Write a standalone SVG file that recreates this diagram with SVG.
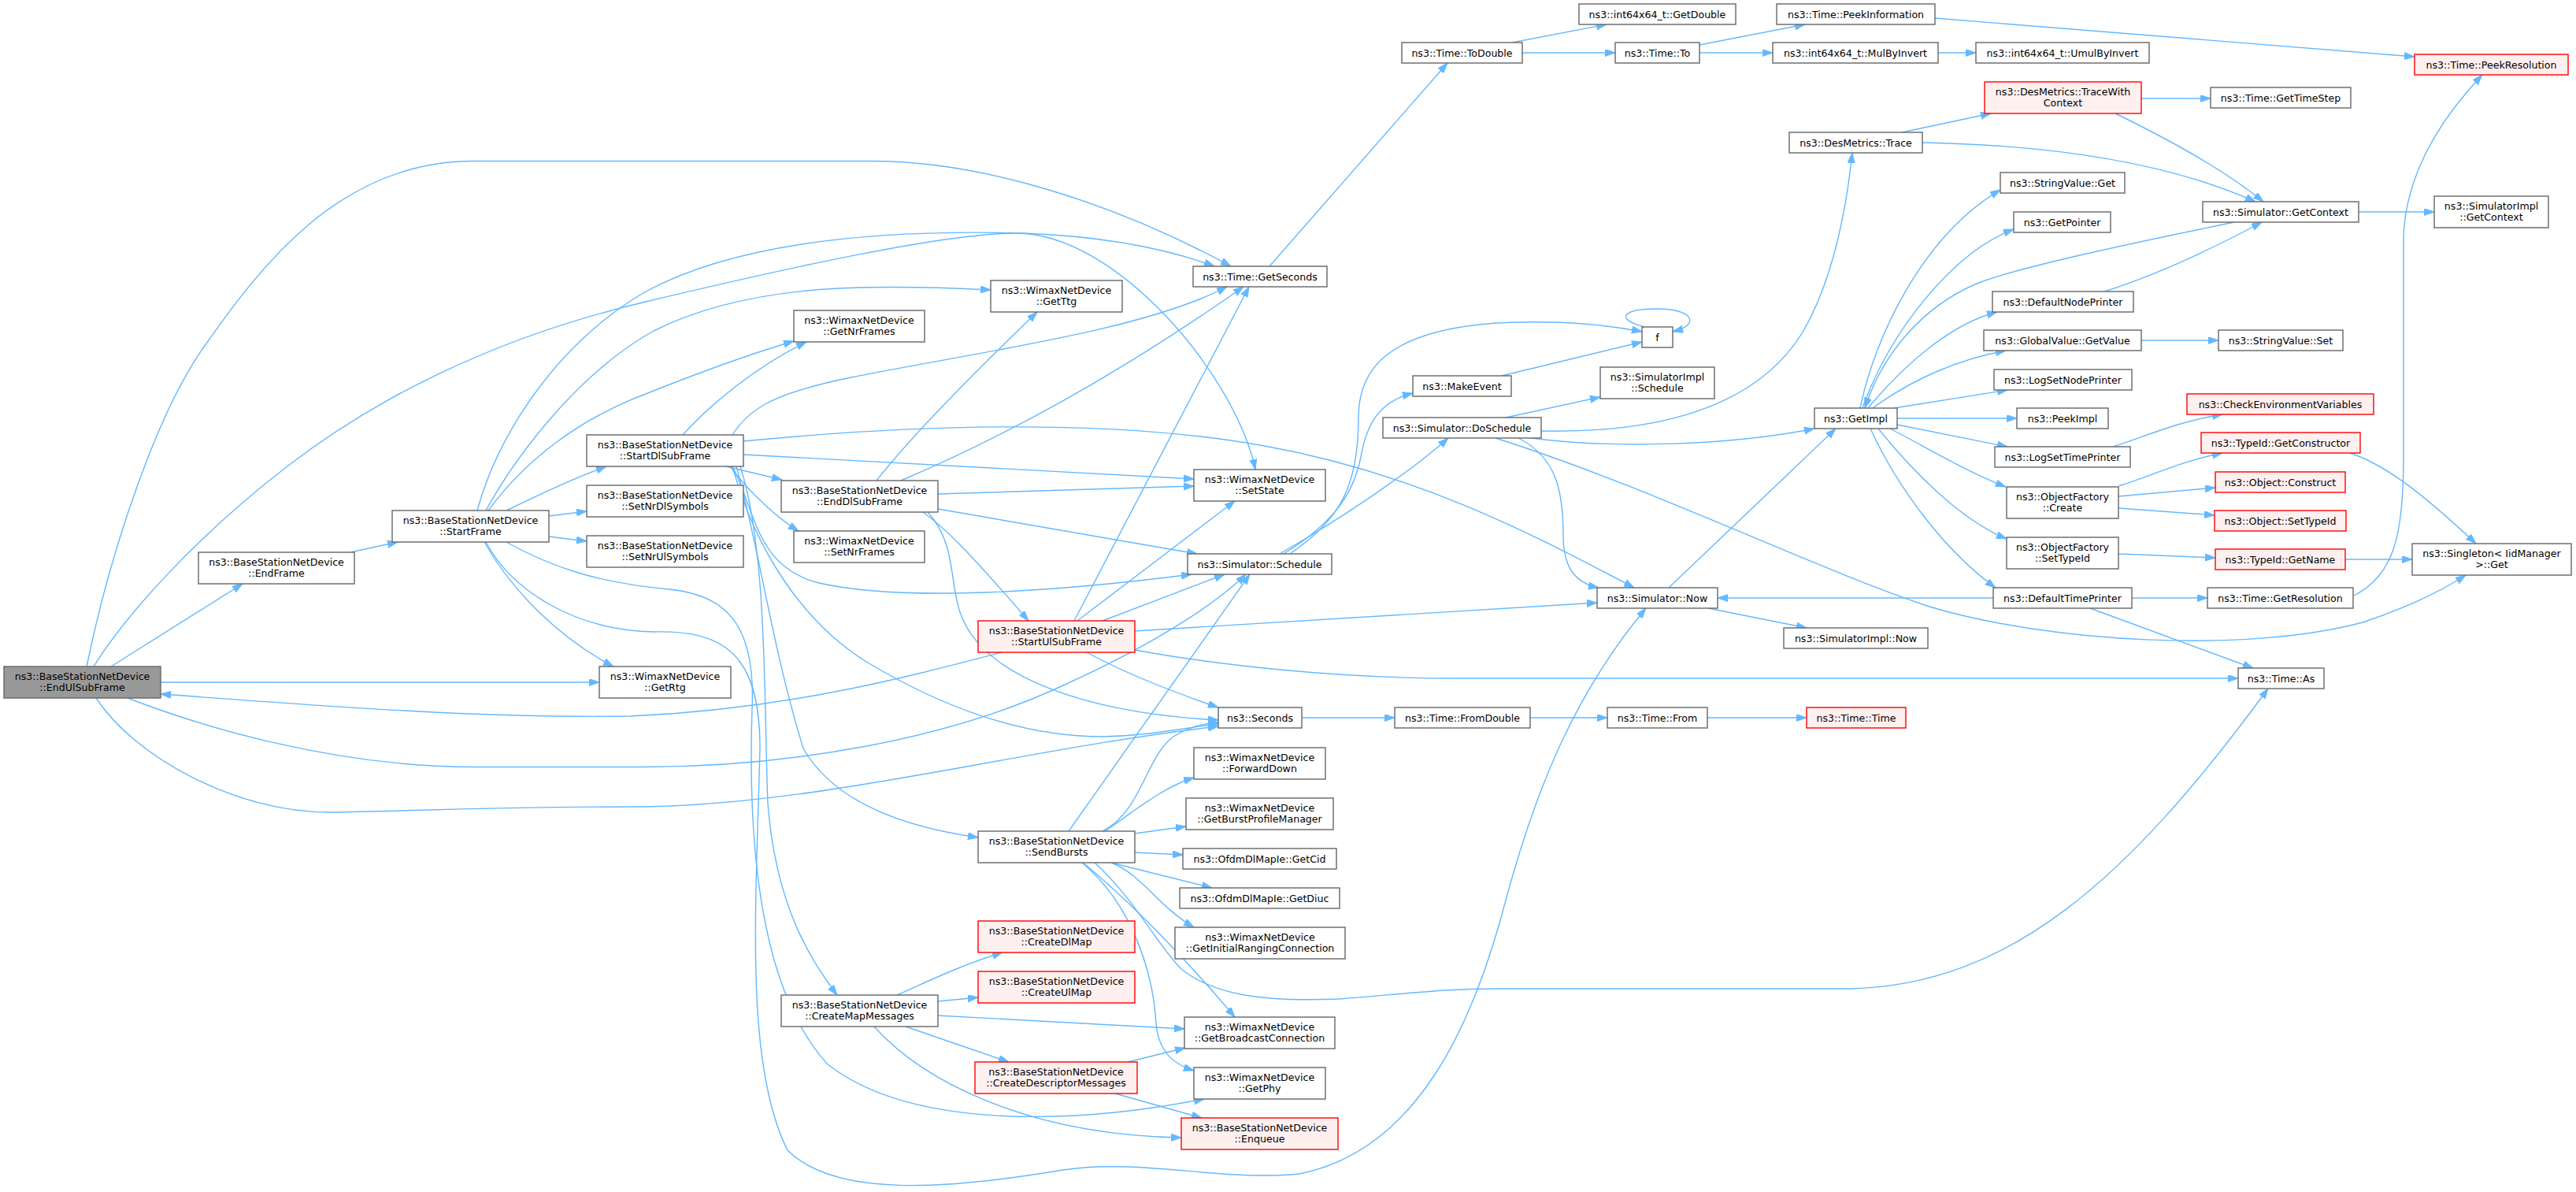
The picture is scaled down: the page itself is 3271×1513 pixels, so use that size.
<svg xmlns="http://www.w3.org/2000/svg" width="3271" height="1513" viewBox="0 0 3271 1513">
<style>
.n rect{fill:#fff;stroke:#666;stroke-width:1.4}
.r rect{fill:#fff0f0;stroke:#f00;stroke-width:1.4}
.root rect{fill:#999;stroke:#666;stroke-width:1.4}
text{font-family:"DejaVu Sans",sans-serif;font-size:12.6px;text-anchor:middle;fill:#000}
#edges path{fill:none;stroke:#63b8ff;stroke-width:1.4;marker-end:url(#a)}
</style>
<defs>
<marker id="a" markerUnits="userSpaceOnUse" markerWidth="14" markerHeight="10" refX="13" refY="4.5" orient="auto"><path d="M0,0 L13,4.5 L0,9 z" fill="#63b8ff" stroke="#63b8ff" stroke-width="1"/></marker>
</defs>
<rect width="3271" height="1513" fill="#fff"/>
<g id="edges">
<path d="M141,846 L308,741"/>
<path d="M204,866 L761,866"/>
<path d="M110,846 C140,700 200,520 262,436 C330,340 430,205 600,204.5 L1108,204.5 C1250,204.5 1420,260 1563,338"/>
<path d="M119,846 C160,780 250,680 366,591 C470,511 620,430 820,383 C1000,340 1200,296 1290,296 C1420,296 1570,480 1594,596"/>
<path d="M162,886 C250,920 420,973 600,973.5 L820,973.5 C1000,973 1200,940 1350,870 C1460,820 1540,770 1582,729"/>
<path d="M122,886 C170,960 300,1032 420,1031 C520,1030 600,1024 820,1024 C1050,1020 1300,950 1547,922"/>
<path d="M1272,828 C1150,860 1000,900 800,909 C600,912 400,895 204,881"/>
<path d="M445,701 L505,688"/>
<path d="M643,648 C690,625 730,606 770,592"/>
<path d="M697,655 L745,649"/>
<path d="M697,681 L745,687"/>
<path d="M615,688 C650,750 710,810 779,846"/>
<path d="M606,648 C630,560 700,440 820,370 C950,300 1150,292 1300,296 C1400,300 1480,315 1542,338"/>
<path d="M617,648 C660,570 740,470 830,420 C950,360 1100,360 1258,368"/>
<path d="M620,648 C670,580 740,530 820,500 C890,472 950,450 1008,433"/>
<path d="M867,552 C900,515 960,465 1024,434"/>
<path d="M930,552 C950,520 980,500 1076,480 C1250,445 1450,420 1558,364"/>
<path d="M1144,610 C1250,565 1400,490 1579,364"/>
<path d="M1364,788 L1586,364"/>
<path d="M1113,610 C1160,550 1240,470 1317,396"/>
<path d="M944,577 L1516,608"/>
<path d="M1191,627 L1516,617"/>
<path d="M1368,788 L1568,636"/>
<path d="M944,560 C1150,540 1400,530 1600,565 C1800,600 1950,680 2075,746"/>
<path d="M922,592 L993,609"/>
<path d="M927,592 C940,610 975,650 1014,674"/>
<path d="M930,592 C960,650 960,720 1040,740 C1150,765 1350,750 1513,729"/>
<path d="M930,592 C960,700 1020,790 1100,840 C1200,900 1300,935 1400,935 C1460,934 1500,924 1547,919"/>
<path d="M935,592 C965,700 980,820 1020,950 C1060,1020 1150,1050 1242,1063"/>
<path d="M940,592 C975,700 970,900 975,1020 C985,1150 1030,1220 1063,1263"/>
<path d="M643,688 C700,720 760,740 850,748 C920,755 960,790 955,900 C950,1050 960,1250 1050,1350 C1150,1430 1350,1430 1529,1395"/>
<path d="M617,688 C650,750 730,800 830,802 C920,800 965,830 965,950 C960,1150 945,1350 1000,1460 C1060,1520 1200,1510 1350,1485 C1450,1470 1550,1500 1650,1490 C1800,1460 1870,1300 1910,1150 C1950,1000 2000,880 2090,772"/>
<path d="M1357,1055 L1587,729"/>
<path d="M1400,1055 C1450,1030 1455,960 1490,935 C1510,922 1530,918 1547,917"/>
<path d="M1403,1055 C1440,1030 1475,1000 1516,987"/>
<path d="M1441,1058 L1506,1049"/>
<path d="M1441,1082 L1502,1085"/>
<path d="M1411,1095 L1539,1127"/>
<path d="M1411,1095 C1450,1110 1470,1150 1516,1177"/>
<path d="M1375,1095 C1430,1140 1500,1210 1568,1291"/>
<path d="M1374,1095 C1440,1150 1465,1240 1468,1300 C1472,1340 1495,1352 1516,1359"/>
<path d="M1390,1095 C1440,1140 1470,1200 1500,1230 C1540,1262 1600,1272 1700,1268 C1780,1262 1830,1255 1900,1255 L2350,1255 C2550,1250 2700,1120 2880,874"/>
<path d="M1139,1263 C1180,1245 1220,1225 1273,1209"/>
<path d="M1191,1271 L1242,1266"/>
<path d="M1191,1289 L1504,1306"/>
<path d="M1150,1303 L1281,1348"/>
<path d="M1110,1303 C1170,1370 1300,1440 1500,1444"/>
<path d="M1432,1348 L1505,1330"/>
<path d="M1416,1388 L1526,1419"/>
<path d="M1172,650 C1200,670 1230,700 1306,788"/>
<path d="M1178,650 C1215,690 1205,740 1220,780 C1250,860 1380,905 1547,914"/>
<path d="M1191,646 L1520,703"/>
<path d="M1400,788 L1555,729"/>
<path d="M1380,828 C1420,850 1480,875 1547,898"/>
<path d="M1441,801 L2028,765"/>
<path d="M1441,825 C1550,845 1700,861 1850,861 L2842,861"/>
<path d="M1625,703 C1700,660 1790,600 1839,556"/>
<path d="M1630,703 C1700,660 1720,620 1728,580 C1735,540 1750,510 1794,499"/>
<path d="M1638,703 C1700,660 1725,620 1725,530 C1725,470 1760,420 1900,410 C1980,406 2040,412 2085,421"/>
<path d="M1907,477 L2085,434"/>
<path d="M2088,415 C2050,405 2060,392 2104,392 C2150,392 2160,412 2124,421"/>
<path d="M1912,530 L2032,504"/>
<path d="M1957,547 C2100,550 2230,520 2290,420 C2330,350 2345,260 2352,194"/>
<path d="M1944,556 C2050,570 2200,565 2304,544"/>
<path d="M1928,556 C1975,580 1985,620 1985,680 C1985,720 2000,740 2030,746"/>
<path d="M1899,556 C2100,620 2300,720 2450,770 C2600,815 2850,830 3000,790 C3060,770 3100,750 3131,730"/>
<path d="M2119,746 L2331,544"/>
<path d="M2169,772 L2294,797"/>
<path d="M2531,759 L2181,759"/>
<path d="M2707,759 L2803,759"/>
<path d="M2654,772 L2861,848"/>
<path d="M2989,756 C3040,730 3052,680 3052,580 L3052,300 C3055,220 3100,150 3152,95"/>
<path d="M1653,911 L1771,911"/>
<path d="M1943,911 L2041,911"/>
<path d="M2168,911 L2294,911"/>
<path d="M1612,338 L1838,80"/>
<path d="M1920,54 L2040,31"/>
<path d="M1933,67 L2051,67"/>
<path d="M2158,57 L2292,31"/>
<path d="M2158,67 L2251,67"/>
<path d="M2461,67 L2509,67"/>
<path d="M2457,23 L3066,72"/>
<path d="M2415,168 L2528,144"/>
<path d="M2441,181 C2600,184 2750,205 2864,256"/>
<path d="M2719,125 L2807,125"/>
<path d="M2686,144 C2760,180 2830,220 2874,256"/>
<path d="M2995,269 L3091,269"/>
<path d="M2837,282 C2700,310 2560,340 2510,360 C2440,390 2390,450 2368,518"/>
<path d="M2672,370 C2750,345 2820,310 2872,282"/>
<path d="M2719,432 L2817,432"/>
<path d="M2683,567 C2720,556 2760,536 2822,526"/>
<path d="M2690,617 C2730,605 2770,585 2822,575"/>
<path d="M2690,630 L2813,619"/>
<path d="M2690,645 L2812,654"/>
<path d="M2690,703 L2813,708"/>
<path d="M2978,710 L3063,710"/>
<path d="M2984,575 C3030,590 3080,630 3144,690"/>
<path d="M2362,518 C2380,430 2440,300 2540,241"/>
<path d="M2365,518 C2400,420 2480,320 2557,291"/>
<path d="M2372,518 C2420,460 2480,410 2536,396"/>
<path d="M2378,518 C2430,480 2490,455 2547,445"/>
<path d="M2405,518 L2549,495"/>
<path d="M2409,531 L2561,531"/>
<path d="M2409,539 L2549,567"/>
<path d="M2400,544 C2450,570 2500,600 2547,618"/>
<path d="M2385,544 C2430,600 2490,660 2548,684"/>
<path d="M2375,544 C2410,620 2470,700 2534,746"/>
</g>
<g id="n1" class="root"><rect x="5" y="846" width="199" height="40"/><text x="104.5" y="863">ns3::BaseStationNetDevice</text><text x="104.5" y="877">::EndUlSubFrame</text></g>
<g id="n2" class="n"><rect x="252" y="701" width="198" height="40"/><text x="351" y="718">ns3::BaseStationNetDevice</text><text x="351" y="732">::EndFrame</text></g>
<g id="n3" class="n"><rect x="498" y="648" width="199" height="40"/><text x="597.5" y="665">ns3::BaseStationNetDevice</text><text x="597.5" y="679">::StartFrame</text></g>
<g id="n4" class="n"><rect x="745" y="552" width="199" height="40"/><text x="844.5" y="569">ns3::BaseStationNetDevice</text><text x="844.5" y="583">::StartDlSubFrame</text></g>
<g id="n5" class="n"><rect x="745" y="616" width="199" height="40"/><text x="844.5" y="633">ns3::BaseStationNetDevice</text><text x="844.5" y="647">::SetNrDlSymbols</text></g>
<g id="n6" class="n"><rect x="745" y="680" width="199" height="40"/><text x="844.5" y="697">ns3::BaseStationNetDevice</text><text x="844.5" y="711">::SetNrUlSymbols</text></g>
<g id="n7" class="n"><rect x="761" y="846" width="167" height="40"/><text x="844.5" y="863">ns3::WimaxNetDevice</text><text x="844.5" y="877">::GetRtg</text></g>
<g id="n8" class="n"><rect x="1008" y="394" width="166" height="40"/><text x="1091" y="411">ns3::WimaxNetDevice</text><text x="1091" y="425">::GetNrFrames</text></g>
<g id="n9" class="n"><rect x="1258" y="356" width="167" height="40"/><text x="1341.5" y="373">ns3::WimaxNetDevice</text><text x="1341.5" y="387">::GetTtg</text></g>
<g id="n10" class="n"><rect x="992" y="610" width="199" height="40"/><text x="1091.5" y="627">ns3::BaseStationNetDevice</text><text x="1091.5" y="641">::EndDlSubFrame</text></g>
<g id="n11" class="n"><rect x="1008" y="674" width="166" height="40"/><text x="1091" y="691">ns3::WimaxNetDevice</text><text x="1091" y="705">::SetNrFrames</text></g>
<g id="n12" class="r"><rect x="1242" y="788" width="199" height="40"/><text x="1341.5" y="805">ns3::BaseStationNetDevice</text><text x="1341.5" y="819">::StartUlSubFrame</text></g>
<g id="n13" class="n"><rect x="1242" y="1055" width="199" height="40"/><text x="1341.5" y="1072">ns3::BaseStationNetDevice</text><text x="1341.5" y="1086">::SendBursts</text></g>
<g id="n14" class="n"><rect x="992" y="1263" width="199" height="40"/><text x="1091.5" y="1280">ns3::BaseStationNetDevice</text><text x="1091.5" y="1294">::CreateMapMessages</text></g>
<g id="n15" class="r"><rect x="1242" y="1169" width="199" height="40"/><text x="1341.5" y="1186">ns3::BaseStationNetDevice</text><text x="1341.5" y="1200">::CreateDlMap</text></g>
<g id="n16" class="r"><rect x="1242" y="1233" width="199" height="40"/><text x="1341.5" y="1250">ns3::BaseStationNetDevice</text><text x="1341.5" y="1264">::CreateUlMap</text></g>
<g id="n17" class="r"><rect x="1238" y="1348" width="206" height="40"/><text x="1341" y="1365">ns3::BaseStationNetDevice</text><text x="1341" y="1379">::CreateDescriptorMessages</text></g>
<g id="n18" class="n"><rect x="1515" y="338" width="170" height="26"/><text x="1600" y="355.5">ns3::Time::GetSeconds</text></g>
<g id="n19" class="n"><rect x="1516" y="596" width="167" height="40"/><text x="1599.5" y="613">ns3::WimaxNetDevice</text><text x="1599.5" y="627">::SetState</text></g>
<g id="n20" class="n"><rect x="1508" y="703" width="183" height="26"/><text x="1599.5" y="720.5">ns3::Simulator::Schedule</text></g>
<g id="n21" class="n"><rect x="1547" y="898" width="106" height="26"/><text x="1600" y="915.5">ns3::Seconds</text></g>
<g id="n22" class="n"><rect x="1516" y="949" width="167" height="40"/><text x="1599.5" y="966">ns3::WimaxNetDevice</text><text x="1599.5" y="980">::ForwardDown</text></g>
<g id="n23" class="n"><rect x="1506" y="1013" width="187" height="40"/><text x="1599.5" y="1030">ns3::WimaxNetDevice</text><text x="1599.5" y="1044">::GetBurstProfileManager</text></g>
<g id="n24" class="n"><rect x="1502" y="1077" width="195" height="26"/><text x="1599.5" y="1094.5">ns3::OfdmDlMapIe::GetCid</text></g>
<g id="n25" class="n"><rect x="1498" y="1127" width="203" height="26"/><text x="1599.5" y="1144.5">ns3::OfdmDlMapIe::GetDiuc</text></g>
<g id="n26" class="n"><rect x="1492" y="1177" width="216" height="40"/><text x="1600" y="1194">ns3::WimaxNetDevice</text><text x="1600" y="1208">::GetInitialRangingConnection</text></g>
<g id="n27" class="n"><rect x="1504" y="1291" width="191" height="40"/><text x="1599.5" y="1308">ns3::WimaxNetDevice</text><text x="1599.5" y="1322">::GetBroadcastConnection</text></g>
<g id="n28" class="n"><rect x="1516" y="1355" width="167" height="40"/><text x="1599.5" y="1372">ns3::WimaxNetDevice</text><text x="1599.5" y="1386">::GetPhy</text></g>
<g id="n29" class="r"><rect x="1500" y="1419" width="199" height="40"/><text x="1599.5" y="1436">ns3::BaseStationNetDevice</text><text x="1599.5" y="1450">::Enqueue</text></g>
<g id="n30" class="n"><rect x="1780" y="54" width="153" height="26"/><text x="1856.5" y="71.5">ns3::Time::ToDouble</text></g>
<g id="n31" class="n"><rect x="2005" y="5" width="199" height="26"/><text x="2104.5" y="22.5">ns3::int64x64_t::GetDouble</text></g>
<g id="n32" class="n"><rect x="2051" y="54" width="107" height="26"/><text x="2104.5" y="71.5">ns3::Time::To</text></g>
<g id="n33" class="n"><rect x="2256" y="5" width="201" height="26"/><text x="2356.5" y="22.5">ns3::Time::PeekInformation</text></g>
<g id="n34" class="n"><rect x="2251" y="54" width="210" height="26"/><text x="2356" y="71.5">ns3::int64x64_t::MulByInvert</text></g>
<g id="n35" class="n"><rect x="2509" y="54" width="220" height="26"/><text x="2619" y="71.5">ns3::int64x64_t::UmulByInvert</text></g>
<g id="n36" class="r"><rect x="3066" y="69" width="195" height="26"/><text x="3163.5" y="86.5">ns3::Time::PeekResolution</text></g>
<g id="n37" class="n"><rect x="2272" y="168" width="169" height="26"/><text x="2356.5" y="185.5">ns3::DesMetrics::Trace</text></g>
<g id="n38" class="r"><rect x="2520" y="104" width="199" height="40"/><text x="2619.5" y="121">ns3::DesMetrics::TraceWith</text><text x="2619.5" y="135">Context</text></g>
<g id="n39" class="n"><rect x="2807" y="111" width="178" height="26"/><text x="2896" y="128.5">ns3::Time::GetTimeStep</text></g>
<g id="n40" class="n"><rect x="2540" y="219" width="158" height="26"/><text x="2619" y="236.5">ns3::StringValue::Get</text></g>
<g id="n41" class="n"><rect x="2557" y="269" width="123" height="26"/><text x="2618.5" y="286.5">ns3::GetPointer</text></g>
<g id="n42" class="n"><rect x="2797" y="256" width="198" height="26"/><text x="2896" y="273.5">ns3::Simulator::GetContext</text></g>
<g id="n43" class="n"><rect x="3091" y="249" width="145" height="40"/><text x="3163.5" y="266">ns3::SimulatorImpl</text><text x="3163.5" y="280">::GetContext</text></g>
<g id="n44" class="n"><rect x="2530" y="370" width="179" height="26"/><text x="2619.5" y="387.5">ns3::DefaultNodePrinter</text></g>
<g id="n45" class="n"><rect x="2519" y="419" width="200" height="26"/><text x="2619" y="436.5">ns3::GlobalValue::GetValue</text></g>
<g id="n46" class="n"><rect x="2817" y="419" width="158" height="26"/><text x="2896" y="436.5">ns3::StringValue::Set</text></g>
<g id="n47" class="n"><rect x="2532" y="469" width="175" height="26"/><text x="2619.5" y="486.5">ns3::LogSetNodePrinter</text></g>
<g id="n48" class="r"><rect x="2777" y="500" width="237" height="26"/><text x="2895.5" y="517.5">ns3::CheckEnvironmentVariables</text></g>
<g id="n49" class="n"><rect x="2561" y="518" width="116" height="26"/><text x="2619" y="535.5">ns3::PeekImpl</text></g>
<g id="n50" class="r"><rect x="2795" y="549" width="202" height="26"/><text x="2896" y="566.5">ns3::TypeId::GetConstructor</text></g>
<g id="n51" class="n"><rect x="2533" y="567" width="172" height="26"/><text x="2619" y="584.5">ns3::LogSetTimePrinter</text></g>
<g id="n52" class="r"><rect x="2813" y="599" width="165" height="26"/><text x="2895.5" y="616.5">ns3::Object::Construct</text></g>
<g id="n53" class="n"><rect x="2548" y="618" width="142" height="40"/><text x="2619" y="635">ns3::ObjectFactory</text><text x="2619" y="649">::Create</text></g>
<g id="n54" class="r"><rect x="2812" y="648" width="167" height="26"/><text x="2895.5" y="665.5">ns3::Object::SetTypeId</text></g>
<g id="n55" class="n"><rect x="2548" y="682" width="142" height="40"/><text x="2619" y="699">ns3::ObjectFactory</text><text x="2619" y="713">::SetTypeId</text></g>
<g id="n56" class="r"><rect x="2813" y="697" width="165" height="26"/><text x="2895.5" y="714.5">ns3::TypeId::GetName</text></g>
<g id="n57" class="n"><rect x="3063" y="690" width="202" height="40"/><text x="3164" y="707">ns3::Singleton&lt; IidManager</text><text x="3164" y="721">&gt;::Get</text></g>
<g id="n58" class="n"><rect x="2531" y="746" width="176" height="26"/><text x="2619" y="763.5">ns3::DefaultTimePrinter</text></g>
<g id="n59" class="n"><rect x="2803" y="746" width="185" height="26"/><text x="2895.5" y="763.5">ns3::Time::GetResolution</text></g>
<g id="n60" class="n"><rect x="2842" y="848" width="109" height="26"/><text x="2896.5" y="865.5">ns3::Time::As</text></g>
<g id="n61" class="n"><rect x="2085" y="415" width="39" height="26"/><text x="2104.5" y="432.5">f</text></g>
<g id="n62" class="n"><rect x="1794" y="477" width="125" height="26"/><text x="1856.5" y="494.5">ns3::MakeEvent</text></g>
<g id="n63" class="n"><rect x="2032" y="466" width="145" height="40"/><text x="2104.5" y="483">ns3::SimulatorImpl</text><text x="2104.5" y="497">::Schedule</text></g>
<g id="n64" class="n"><rect x="1756" y="530" width="201" height="26"/><text x="1856.5" y="547.5">ns3::Simulator::DoSchedule</text></g>
<g id="n65" class="n"><rect x="2304" y="518" width="105" height="26"/><text x="2356.5" y="535.5">ns3::GetImpl</text></g>
<g id="n66" class="n"><rect x="2028" y="746" width="153" height="26"/><text x="2104.5" y="763.5">ns3::Simulator::Now</text></g>
<g id="n67" class="n"><rect x="2265" y="797" width="183" height="26"/><text x="2356.5" y="814.5">ns3::SimulatorImpl::Now</text></g>
<g id="n68" class="n"><rect x="1771" y="898" width="172" height="26"/><text x="1857" y="915.5">ns3::Time::FromDouble</text></g>
<g id="n69" class="n"><rect x="2041" y="898" width="127" height="26"/><text x="2104.5" y="915.5">ns3::Time::From</text></g>
<g id="n70" class="r"><rect x="2294" y="898" width="126" height="26"/><text x="2357" y="915.5">ns3::Time::Time</text></g>
</svg>
